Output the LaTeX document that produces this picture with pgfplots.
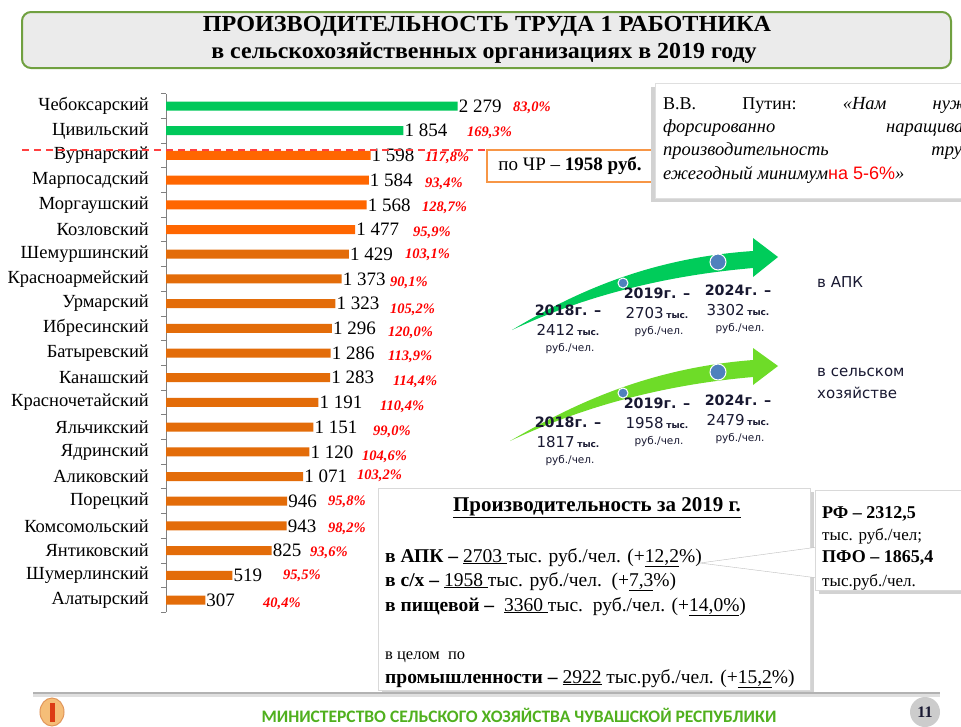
\documentclass[border=0pt]{standalone}
\usepackage{fontspec}
\setmainfont{Liberation Serif}
\newfontfamily\calibri{Carlito}
\newfontfamily\dejavu{DejaVu Sans}
\newfontfamily\arialf{Liberation Sans}
\usepackage{pgfplots}
\pgfplotsset{compat=1.18}
\definecolor{bargreen}{RGB}{0,200,90}
\definecolor{barorange}{RGB}{255,102,0}
\definecolor{barorange2}{RGB}{227,108,9}
\definecolor{arrgreen}{RGB}{0,204,90}
\definecolor{arrlight}{RGB}{110,220,40}
\definecolor{dotblue}{RGB}{79,129,189}
\definecolor{titleborder}{RGB}{112,160,64}
\definecolor{titlefill}{RGB}{235,235,235}
\definecolor{footgreen}{RGB}{80,176,30}
\definecolor{pctred}{RGB}{255,0,0}
\definecolor{boxorange}{RGB}{247,150,70}
\definecolor{navy}{RGB}{25,25,50}
\definecolor{logofill}{RGB}{245,190,120}
\definecolor{logodraw}{RGB}{225,150,90}
\definecolor{logored}{RGB}{220,60,20}
\newcommand\fs[1]{\fontsize{#1}{#1}\selectfont}
\begin{document}
\begin{tikzpicture}
\clip (0pt,0pt) rectangle (961pt,-726pt);
\fill[white] (0pt,0pt) rectangle (961pt,-726pt);
% ---------- bar chart
\begin{axis}[
  scale only axis, width=294.4pt, height=518.7pt,
  xmin=0, xmax=2300, ymin=-0.5, ymax=20.5,
  anchor=south west, at={(166pt,-612.35pt)},
  axis x line=none, axis y line*=left,
  xbar, bar width=9pt,
  xtick=\empty,
  ytick={0,...,20},
  yticklabels={Алатырский,Шумерлинский,Янтиковский,Комсомольский,Порецкий,Аликовский\hspace{4pt},Ядринский,Яльчикский,Красночетайский,Канашский\hspace{4pt},Батыревский,Ибресинский,Урмарский,Красноармейский,Шемуршинский,Козловский,Моргаушский,Марпосадский\hspace{2pt},Вурнарский,Цивильский\hspace{3pt},Чебоксарский},
  major tick length=0pt,
  minor ytick={-0.5,0.5,...,20.5},
  minor tick length=5pt,
  tick align=outside,
  axis line style={draw=gray, line width=0.8pt},
  minor tick style={draw=gray, line width=0.8pt},
  yticklabel style={font=\fs{18.5}, inner sep=0pt, xshift=-17pt},
  nodes near coords, point meta=x,
  every node near coord/.append style={font=\fs{19}, inner sep=1pt, black, anchor=west},
  /pgf/number format/1000 sep={\ },
  /pgf/number format/assume math mode=true,
  clip=false,
]
\addplot[fill=bargreen, draw=none, bar shift=0pt] coordinates {(2279,20) (1854,19)};
\addplot[fill=barorange, draw=none, bar shift=0pt] coordinates {(1598,18) (1584,17) (1568,16) (1477,15)};
\addplot[fill=barorange2, draw=none, bar shift=0pt] coordinates {(1429,14) (1373,13) (1323,12) (1296,11) (1286,10) (1283,9) (1191,8) (1151,7) (1120,6) (1071,5) (946,4) (943,3) (825,2) (519,1) (307,0)};
\end{axis}
\begin{scope}[x=1pt,y=1pt]
% ---------- title
\draw[titleborder, line width=2pt, fill=titlefill, rounded corners=9pt] (22,-12) rectangle (951,-68);
\node[font=\fs{23}\bfseries, inner sep=0pt] at (487,-26) {\scalebox{1.05}[1]{ПРОИЗВОДИТЕЛЬНОСТЬ ТРУДА 1 РАБОТНИКА}};
\node[font=\fs{23}\bfseries, inner sep=0pt] at (484,-53) {\scalebox{1.04}[1]{в сельскохозяйственных организациях в 2019 году}};
% percent labels
\foreach \xx/\yy/\tt in {513/108/{83,0\%},467/133/{169,3\%},425/158/{117,8\%},425/184/{93,4\%},422/208/{128,7\%},413/233/{95,9\%},405/255/{103,1\%},390/283/{90,1\%},390/310/{105,2\%},388/333/{120,0\%},388/357/{113,9\%},393/382/{114,4\%},380/407/{110,4\%},373/432/{99,0\%},362/457/{104,6\%},357/476/{103,2\%},328/502/{95,8\%},328/529/{98,2\%},310/553/{93,6\%},283/576/{95,5\%},263/604/{40,4\%}}
  \node[anchor=west, inner sep=0pt, font=\fs{14.5}\bfseries\itshape, text=pctred] at (\xx,-\yy) {\tt};
% dashed line and box
\draw[red!75!white, line width=2pt, dash pattern=on 7pt off 5pt] (22,-150) -- (487,-150);
\draw[boxorange, line width=1.2pt, fill=white] (487,-150) rectangle (653,-182);
\node[font=\fs{19}] at (570,-166) {по ЧР – \textbf{1958 руб.}};
% ---------- quote box
\fill[gray!35] (651,-87) rectangle (975,-202);
\draw[gray!25, fill=white] (655,-83) rectangle (978,-198);
\begin{scope}[every node/.style={anchor=base west, inner sep=0pt, font=\fs{18}}]
\node at (663,-109) {\hbox to 322pt{В.В.\hfill Путин:\hfill {\fs{18.5}\itshape «Нам}\hfill {\fs{18.5}\itshape нужно}}};
\node at (663,-132) {\hbox to 322pt{{\fs{18.5}\itshape форсированно}\hfill{\fs{18.5}\itshape наращивать}}};
\node at (663,-155) {\hbox to 322pt{{\fs{18.5}\itshape производительность}\hfill{\fs{18.5}\itshape труда,}}};
\node at (663,-179) {{\fs{18.5}\itshape ежегодный минимум}{\arialf\color{red}на 5-6\%}{\fs{18.5}\itshape »}};
\end{scope}
% ---------- arrows
\fill[arrgreen] (512,-330) .. controls (575,-292) and (650,-258) .. (753,-251)
  -- (753,-238) -- (778,-257) -- (753,-277) -- (753,-268)
  .. controls (660,-276) and (580,-298) .. (512,-330) -- cycle;
\fill[arrlight] (510,-441) .. controls (575,-403) and (650,-368) .. (753,-360)
  -- (753,-348) -- (778,-366) -- (753,-385) -- (753,-377)
  .. controls (660,-385) and (580,-408) .. (510,-441) -- cycle;
\foreach \cx/\cy/\r in {623/283/5,718/262/8,623/393/5,718/372/8}
  \filldraw[fill=dotblue, draw=white, line width=1pt] (\cx,-\cy) circle (\r);
\begin{scope}[every node/.style={inner sep=0pt, text=navy}]
\foreach \cx/\cy/\yr/\num in {568/310/2018/2412,657/293/2019/2703,738/290/2024/3302,568/422/2018/1817,657/403/2019/1958,738/400/2024/2479}{
  \node[font=\dejavu\fs{14.3}\bfseries] at (\cx,-\cy) {\yr г. –};
  \node at (\cx,-\cy-20) {{\dejavu\fs{15}\num\,}{\dejavu\fs{9}\bfseries тыс.}};
  \node[font=\dejavu\fs{10.5}] at (\cx+2,-\cy-39) {руб./чел.};
}
\end{scope}
\node[anchor=west, inner sep=0pt, font=\dejavu\fs{15}, text=navy] at (817,-282) {в АПК};
\node[anchor=west, inner sep=0pt, font=\dejavu\fs{15}, text=navy] at (817,-372) {в сельском};
\node[anchor=west, inner sep=0pt, font=\dejavu\fs{15}, text=navy] at (817,-393) {хозяйстве};
% ---------- bottom box
\fill[gray!35] (382,-492) rectangle (814,-694);
\draw[gray!30, fill=white] (378,-488) rectangle (810,-690);
\node[font=\fs{21}\bfseries, inner sep=0pt] at (597,-508) {\underline{Производительность за 2019 г.}};
\begin{scope}[every node/.style={anchor=base west, inner sep=0pt, font=\fs{19.5}}]
\node at (385,-562) {\textbf{в АПК –} \underline{2703\ }тыс. руб./чел. (+\underline{12,2}\%)};
\node at (385,-586) {\textbf{в с/х –} \underline{1958\ }тыс. руб./чел.\ \ (+\underline{7,3}\%)};
\node at (385,-611) {\textbf{в пищевой –}\ \ \underline{3360\ }тыс.\ \ руб./чел. (+\underline{14,0\%})};
\node[font=\fs{16.5}] at (385,-659) {в целом\ \ по};
\node at (385,-683) {\textbf{промышленности –} \underline{2922} тыс.руб./чел. (+\underline{15,2}\%)};
\end{scope}
% callout
\fill[gray!35] (819,-494) rectangle (975,-594);
\filldraw[fill=white, draw=gray!50] (700,-563) -- (818,-547) -- (818,-578) -- cycle;
\draw[gray!30, fill=white] (815,-490) rectangle (975,-590);
\fill[white] (816,-545) rectangle (822,-580);
\begin{scope}[every node/.style={anchor=base west, inner sep=0pt, font=\fs{18}}]
\node at (822,-518) {\textbf{РФ – 2312,5}};
\node[font=\fs{17}] at (822,-540) {тыс. руб./чел;};
\node at (822,-562) {\textbf{ПФО – 1865,4}};
\node[font=\fs{17}] at (822,-586) {тыс.руб./чел.};
\end{scope}
% ---------- footer
\fill[gray!25] (33,-692) rectangle (940,-697);
\draw[gray!60, line width=1.2pt] (33,-693) -- (940,-693);
\filldraw[fill=logofill, draw=logodraw, line width=1pt] (52,-712) ellipse (12 and 14);
\fill[logored] (50,-703) rectangle (55,-722);
\node[font=\calibri\fs{17.5}\bfseries, text=footgreen, inner sep=0pt] at (519,-715) {МИНИСТЕРСТВО СЕЛЬСКОГО ХОЗЯЙСТВА ЧУВАШСКОЙ РЕСПУБЛИКИ};
\fill[gray!40] (925,-712) circle (15);
\node[font=\fs{16}\bfseries, inner sep=0pt, text=navy] at (925,-712) {11};
\end{scope}
\end{tikzpicture}
\end{document}
